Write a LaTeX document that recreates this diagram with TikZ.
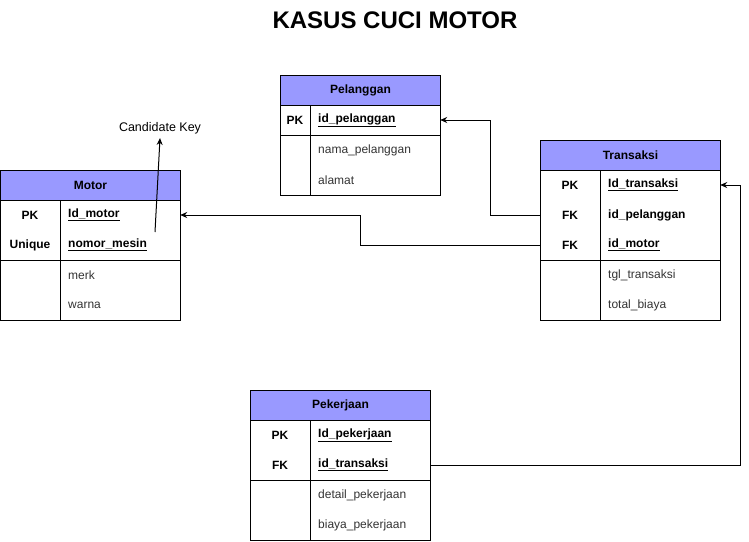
\documentclass[tikz,border=0pt]{standalone}
\usepackage{fontspec}
\setmainfont{Liberation Sans}
\usetikzlibrary{arrows.meta}
\definecolor{hdrblue}{RGB}{153,153,255}
\definecolor{plaintxt}{RGB}{51,51,51}
\begin{document}
\begin{tikzpicture}[x=1pt,y=-1pt,
  tbl/.style={line width=1pt},
  hdr/.style={draw, line width=1pt, fill=hdrblue, minimum height=30pt, inner sep=0pt, anchor=north west, font=\fontsize{12}{14}\selectfont\bfseries},
  rowbox/.style={minimum height=30pt, inner sep=0pt},
  keytxt/.style={font=\fontsize{12}{14}\selectfont\bfseries, inner sep=0pt},
  valtxt/.style={font=\fontsize{12}{14}\selectfont\bfseries, anchor=west, inner sep=0pt},
  attrtxt/.style={font=\fontsize{12}{14}\selectfont, text=plaintxt, anchor=west, inner sep=0pt},
  conn/.style={line width=1pt, -{Stealth[length=7pt,width=6pt]}}]
\useasboundingbox (0,0) rectangle (749,541);

% Title
\node[font=\fontsize{24}{28}\selectfont\bfseries] (title) at (395,20) {KASUS CUCI MOTOR};

% ---------- Motor ----------
\node[hdr, minimum width=180pt] (motor) at (0,170) {Motor};
\draw[tbl] (0,200) rectangle (180,320);
\draw[tbl] (60,200) -- (60,320);
\draw[tbl] (0,260) -- (180,260);
\node[rowbox, minimum width=180pt] (motor-id) at (90,215) {};
\node[rowbox, minimum width=180pt] (motor-nm) at (90,245) {};
\node[keytxt] (motor-k1) at (30,215) {PK};
\node[valtxt] (motor-v1) at (68,215) {\underline{Id\_motor}};
\node[keytxt] (motor-k2) at (30,245) {Unique};
\node[valtxt] (motor-v2) at (68,245) {\underline{nomor\_mesin}};
\node[attrtxt] (motor-v3) at (68,275) {merk};
\node[attrtxt] (motor-v4) at (68,305) {warna};

% ---------- Pelanggan ----------
\node[hdr, minimum width=160pt] (pel) at (280,75) {Pelanggan};
\draw[tbl] (280,105) rectangle (440,195);
\draw[tbl] (310,105) -- (310,195);
\draw[tbl] (280,135) -- (440,135);
\node[rowbox, minimum width=160pt] (pel-id) at (360,120) {};
\node[keytxt] (pel-k1) at (295,120) {PK};
\node[valtxt] (pel-v1) at (318,120) {\underline{id\_pelanggan}};
\node[attrtxt] (pel-v2) at (318,150) {nama\_pelanggan};
\node[attrtxt] (pel-v3) at (318,180) {alamat};

% ---------- Transaksi ----------
\node[hdr, minimum width=180pt] (trx) at (540,140) {Transaksi};
\draw[tbl] (540,170) rectangle (720,320);
\draw[tbl] (600,170) -- (600,320);
\draw[tbl] (540,260) -- (720,260);
\node[rowbox, minimum width=180pt] (trx-id) at (630,185) {};
\node[rowbox, minimum width=180pt] (trx-pel) at (630,215) {};
\node[rowbox, minimum width=180pt] (trx-mot) at (630,245) {};
\node[keytxt] (trx-k1) at (570,185) {PK};
\node[valtxt] (trx-v1) at (608,185) {\underline{Id\_transaksi}};
\node[keytxt] (trx-k2) at (570,215) {FK};
\node[valtxt] (trx-v2) at (608,215) {id\_pelanggan};
\node[keytxt] (trx-k3) at (570,245) {FK};
\node[valtxt] (trx-v3) at (608,245) {\underline{id\_motor}};
\node[attrtxt] (trx-v4) at (608,275) {tgl\_transaksi};
\node[attrtxt] (trx-v5) at (608,305) {total\_biaya};

% ---------- Pekerjaan ----------
\node[hdr, minimum width=180pt] (pek) at (250,390) {Pekerjaan};
\draw[tbl] (250,420) rectangle (430,540);
\draw[tbl] (310,420) -- (310,540);
\draw[tbl] (250,480) -- (430,480);
\node[rowbox, minimum width=180pt] (pek-id) at (340,435) {};
\node[rowbox, minimum width=180pt] (pek-trx) at (340,465) {};
\node[keytxt] (pek-k1) at (280,435) {PK};
\node[valtxt] (pek-v1) at (318,435) {\underline{Id\_pekerjaan}};
\node[keytxt] (pek-k2) at (280,465) {FK};
\node[valtxt] (pek-v2) at (318,465) {\underline{id\_transaksi}};
\node[attrtxt] (pek-v3) at (318,495) {detail\_pekerjaan};
\node[attrtxt] (pek-v4) at (318,525) {biaya\_pekerjaan};

% ---------- Candidate key ----------
\node[font=\fontsize{12.5}{14}\selectfont, inner sep=0pt] (ck) at (160,128) {Candidate Key};
\coordinate (ck-from) at (155,232);
\coordinate (ck-to) at (160,138);

% ---------- Connectors ----------
\draw[conn] (trx-pel.west) -- (490,215) |- (pel-id.east);
\draw[conn] (trx-mot.west) -- (360,245) |- (motor-id.east);
\draw[conn] (pek-trx.east) -- (740,465) |- (trx-id.east);
\draw[conn] (ck-from) -- (ck-to);
\end{tikzpicture}
\end{document}
